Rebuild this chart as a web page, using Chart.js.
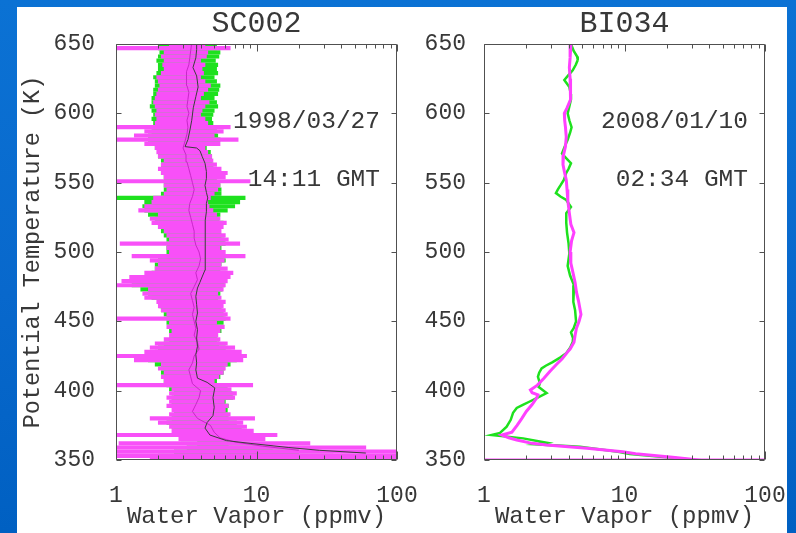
<!DOCTYPE html>
<html>
<head>
<meta charset="utf-8">
<script src="https://cdn.jsdelivr.net/npm/chart.js@4/dist/chart.umd.min.js"></script>
<style>
html,body{margin:0;padding:0;}
body{width:796px;height:533px;overflow:hidden;position:relative;background:linear-gradient(180deg,#0b72d4 0%,#0868cc 55%,#0060c2 100%);}
#panel{position:absolute;left:17px;top:7px;width:770px;height:526px;background:#ffffff;}
#c1{position:absolute;left:0;top:0;}
#c2{position:absolute;left:383px;top:0;}
</style>
</head>
<body>
<div id="panel">
<canvas id="c1" width="410" height="526"></canvas>
<canvas id="c2" width="387" height="526"></canvas>
</div>
<script>
// ---------------- DATA ----------------
const panelTitles = ['SC002', 'BI034'];
const panelDates = ['1998/03/27', '2008/01/10'];
const panelTimes = ['14:11 GMT', '02:34 GMT'];
const xTickLabels = ['1', '10', '100'];
const yTickValues = [350, 400, 450, 500, 550, 600, 650];

// SC002: potential temperature levels (K) of the error bars
const thetaSC = [350,353,356,359,362,365,368,371,374,377,
                 380,383,386,389,392,395,398,401,404,407,
                 410,413,416,419,422,425,428,431,434,437,
                 440,443,446,449,452,455,458,461,464,467,
                 470,473,476,479,482,485,488,491,494,497,
                 500,503,506,509,512,515,518,521,524,527,
                 530,533,536,539,542,545,548,551,554,557,
                 560,563,566,569,572,575,578,581,584,587,
                 590,593,596,599,602,605,608,611,614,617,
                 620,623,626,629,632,635,638,641,644,647,
                 650];
// magenta error bars: low / high water vapor (ppmv)
const sc002MagLo = [1.75,1.0,1.0,1.0,1.05,2.8,1.0,2.5,2.4,2.0,
                    1.75,2.4,2.5,2.3,2.4,2.3,2.4,2.5,1.0,2.2,
                    2.1,2.2,2.0,2.1,1.35,1.0,1.6,1.75,1.9,2.2,
                    2.4,2.5,2.3,2.4,1.0,2.3,2.1,2.0,1.95,1.6,
                    1.55,1.7,1.0,1.1,1.25,1.6,1.9,2.0,1.75,1.3,
                    2.4,2.3,1.07,2.4,2.3,2.2,2.0,1.8,1.75,2.0,
                    1.45,1.6,1.8,1.85,2.2,2.3,2.2,1.0,2.2,2.1,
                    2.0,2.1,2.2,2.0,1.95,1.9,1.6,1.0,1.35,1.6,
                    1.0,1.9,1.95,1.9,1.95,1.9,1.85,1.9,1.95,2.0,
                    2.05,2.0,1.95,2.1,2.2,2.15,2.2,2.1,2.2,1.0,
                    2.4];
const sc002MagHi = [100,100,100,60,24,11.5,14,9.5,8.5,8.0,
                    9.7,6.5,6.0,6.3,5.9,7.0,7.2,6.6,9.4,5.0,
                    5.4,5.8,6.0,6.2,8.0,8.5,7.8,7.0,6.2,5.5,
                    5.3,5.5,5.9,5.2,6.5,6.2,6.0,5.8,6.0,5.6,
                    5.3,5.8,6.0,6.2,6.5,6.8,6.2,5.6,5.9,8.3,
                    6.0,5.5,7.6,6.3,6.0,5.6,5.8,6.1,5.5,5.2,
                    4.9,4.6,4.5,4.7,5.0,5.3,5.5,9.0,6.0,6.2,
                    5.6,5.2,4.9,4.8,4.5,4.3,5.5,7.4,5.0,5.8,
                    6.5,4.5,4.3,4.0,4.1,4.3,4.6,4.0,4.2,4.5,
                    4.7,4.3,4.0,4.2,4.1,4.3,4.0,4.4,4.5,6.5,
                    4.3];
// green error bars: low / high water vapor (ppmv)
const sc002GrnLo = [1.8,2.0,2.6,3.2,3.8,2.9,2.7,2.6,2.5,2.3,
                    2.5,2.6,2.6,2.5,2.5,2.5,2.6,2.4,2.3,2.2,
                    2.2,2.1,2.1,1.9,1.7,1.8,1.9,2.0,2.2,2.4,
                    2.5,2.4,2.4,2.3,2.3,2.2,2.1,2.05,2.2,1.8,
                    1.7,1.5,1.3,1.4,1.6,1.8,1.9,1.9,2.0,2.3,
                    2.3,2.3,2.3,2.3,2.2,2.1,2.0,1.9,1.9,1.7,
                    1.6,1.55,1.6,1.0,2.1,2.2,2.2,2.2,2.2,2.1,
                    2.1,2.1,2.1,2.0,2.0,1.9,1.8,1.7,1.7,1.8,
                    1.85,1.85,1.8,1.85,1.8,1.75,1.8,1.8,1.85,1.85,
                    1.9,1.9,1.85,1.95,2.0,2.0,1.95,2.0,2.05,2.0,
                    2.0];
const sc002GrnHi = [60,35,20,13,6.3,9.5,8.5,8.2,7.8,7.2,
                    6.3,6.2,6.2,6.3,6.0,6.8,6.7,6.2,5.0,5.2,
                    5.5,5.8,5.9,6.5,7.2,7.0,6.6,6.0,5.4,5.2,
                    5.3,5.6,5.2,5.8,6.0,5.8,5.6,5.7,5.5,5.3,
                    5.5,5.7,5.9,6.0,6.2,6.0,5.5,5.6,6.0,5.8,
                    5.4,5.6,6.0,5.9,5.6,5.5,5.6,5.8,5.4,5.5,
                    6.2,7.0,7.6,8.3,5.6,5.6,5.5,5.2,5.0,5.0,
                    5.0,4.9,4.8,4.8,4.7,4.4,5.4,5.5,5.3,5.2,
                    5.0,4.9,4.8,4.9,5.0,5.3,5.2,5.0,5.3,5.4,
                    5.5,5.2,5.0,5.3,5.2,5.3,5.1,5.4,5.5,5.2,
                    5.2];
// SC002 dark mean profile
const sc002DarkTheta = [355,357,359,362,364,368,373,377,382,388,395,402,406,409,415,420,426,432,438,444,
                        450,456,462,468,474,478,482,487,493,499,505,511,517,523,529,535,539,543,548,553,
                        558,564,569,573,575,576,581,588,595,604,612,619,627,633,640,646,650];
const sc002DarkVal   = [60,28,17,9,6.1,4.66,4.3,4.45,4.9,5.0,4.9,5.05,4.45,3.8,3.7,3.75,3.7,3.8,3.75,3.8,
                        3.7,3.8,3.75,3.7,3.8,3.95,4.1,4.3,4.3,4.3,4.35,4.3,4.35,4.3,4.4,4.4,4.5,4.4,4.3,4.4,
                        4.4,4.3,4.1,3.96,3.75,3.1,3.25,3.36,3.46,3.55,3.7,3.84,3.75,3.53,3.7,3.75,3.75];
// SC002 magenta mean profile
const sc002MagCtrTheta = [357,360,363,366,370,375,380,385,390,395,400,405,410,415,420,425,430,435,440,445,
                          450,455,460,465,470,475,480,485,490,495,500,505,510,515,520,525,530,535,540,545,
                          550,555,560,565,570,575,580,585,590,595,600,605,610,615,620,625,630,635,640,645,650];
const sc002MagCtrVal   = [20,11,7,5.5,5.0,4.7,3.8,3.5,3.7,3.9,4.0,3.5,3.4,3.3,3.5,3.6,3.9,3.8,3.6,3.7,
                          3.6,3.5,3.6,3.5,3.4,3.6,3.8,3.7,3.9,4.0,3.9,3.7,3.6,3.6,3.5,3.4,3.3,3.35,3.5,3.6,
                          3.5,3.4,3.3,3.2,3.15,3.0,3.1,3.2,3.25,3.2,3.3,3.2,3.25,3.3,3.2,3.15,3.2,3.3,3.35,3.4,3.45];

// BI034 magenta profile
const bi034MagTheta = [650,640,633,625,618,610,604,600,595,590,583,576,570,563,557,552,545,537,528,520,
                       514,508,500,492,485,478,471,465,460,455,450,445,440,435,430,428,423,418.5,414,409,
                       404,400.5,398.5,397,395,390,385,380,375,370,368,366,364.4,362,360.8,358.4,356,354.5,352,350.5,349];
const bi034MagVal   = [4.16,4.1,4.05,4.1,4.16,4.1,3.9,3.73,3.75,3.8,3.85,3.8,3.68,3.65,3.75,3.85,3.9,3.95,4.05,4.15,
                       4.37,4.2,4.1,4.15,4.3,4.45,4.55,4.7,4.8,4.9,4.75,4.55,4.45,4.37,4.1,3.94,3.6,3.25,2.95,2.67,
                       2.4,2.14,2.2,2.42,2.38,2.2,2.0,1.86,1.72,1.58,1.34,1.5,1.71,2.2,2.79,5.4,9.7,12,22,30,40];
// BI034 green profile
const bi034GrnTheta = [650,645,641,638.5,635,631,627,624,619,614,610,605,600,595,590,586,581,576,571,567,
                       564,560,557,552,548,545,542.5,540,537.5,532.5,528,521,514,506,499,490,483,476,470,464,
                       458,450,445,442,438,435,431,427,424,420.6,418,416,413,410,405.5,402.7,398.3,394.7,392,389.7,
                       387.5,384,379,374,369.5,368,365.6,362.5,361.3,359.6,356,354.3,351,349];
const bi034GrnVal   = [4.16,4.35,4.6,4.65,4.5,4.28,3.95,3.73,4.05,4.15,4.16,4.05,3.94,4.05,4.2,4.1,3.94,3.75,3.59,3.9,
                       4.16,4.0,3.85,3.7,3.5,3.35,3.25,3.5,3.85,4.16,3.85,3.85,3.9,4.0,4.05,3.94,4.1,4.37,4.3,4.35,
                       4.45,4.52,4.35,4.16,4.3,4.28,4.1,3.85,3.5,3.08,2.75,2.57,2.47,2.42,2.5,2.45,2.79,2.37,2.1,1.89,
                       1.71,1.61,1.55,1.45,1.3,1.13,1.9,2.79,2.37,4.82,9.0,10.9,25,38];
// BI034 lowest-level magenta segment
const bi034LowTheta = [350, 350];
const bi034LowVal   = [1, 100];

// ---------------- STYLE / HELPERS ----------------
const MONO = "'Liberation Mono', 'DejaVu Sans Mono', monospace";
const TXT = '#383838';
const MAGENTA = 'rgb(248,80,248)';
const GREEN = 'rgb(30,225,30)';
Chart.defaults.font.family = MONO;
Chart.defaults.color = TXT;

const pts = (th, v) => th.map((t, i) => ({x: v[i], y: t}));
const bars = (th, lo, hi) => th.map((t, i) => ({y: t, x: [lo[i], hi[i]]}));

const framePlugin = {
  id: 'frame',
  afterDatasetsDraw(chart, args, opts) {
    const {ctx, chartArea: a} = chart;
    const xs = chart.scales.x, ys = chart.scales.y;
    ctx.save();
    ctx.strokeStyle = '#505050';
    ctx.lineWidth = 1;
    const L = Math.round(a.left) + 0.5, R = Math.round(a.right) - 0.5;
    const T = Math.round(a.top) + 0.5, B = Math.round(a.bottom) - 0.5;
    ctx.beginPath();
    ctx.rect(L, T, R - L, B - T);
    for (const t of xs.ticks) {
      const v = t.value;
      const e = Math.floor(Math.log10(v) + 1e-9);
      const k = v / Math.pow(10, e);
      if (Math.abs(k - Math.round(k)) > 1e-6) continue;
      const major = Math.abs(k - 1) < 1e-6;
      const px = Math.round(xs.getPixelForValue(v)) + 0.5;
      ctx.moveTo(px, B); ctx.lineTo(px, B - (major ? 8 : 4));
      ctx.moveTo(px, T); ctx.lineTo(px, T + (major ? 7 : 4));
    }
    for (const t of ys.ticks) {
      const py = Math.round(ys.getPixelForValue(t.value)) + 0.5;
      ctx.moveTo(L, py); ctx.lineTo(L + 5, py);
      ctx.moveTo(R, py); ctx.lineTo(R - 5, py);
    }
    ctx.stroke();
    ctx.fillStyle = TXT;
    ctx.font = '24.5px ' + MONO;
    ctx.textAlign = 'right';
    ctx.textBaseline = 'alphabetic';
    for (const n of (opts.notes || [])) {
      ctx.fillText(n.text, a.right - 17, ys.getPixelForValue(n.theta));
    }
    ctx.restore();
  }
};

function makeScales(yAxisWidth, showYTitle) {
  return {
    x: {
      type: 'logarithmic', min: 1, max: 100, position: 'bottom',
      grid: {display: false}, border: {display: false},
      ticks: {
        autoSkip: false, maxRotation: 0, minRotation: 0, padding: 14,
        font: {size: 23, family: MONO}, color: TXT,
        callback: (v) => {
          const s = String(Math.round(v));
          return (xTickLabels.includes(s) && Math.abs(v - Math.round(v)) < 1e-9) ? s : '';
        }
      },
      title: {display: true, text: 'Water Vapor (ppmv)', font: {size: 24, family: MONO}, color: TXT, padding: {top: 0, bottom: 2}},
      afterFit(s) { s.height = 73; s.paddingLeft = 0; s.paddingRight = 0; }
    },
    y: {
      type: 'linear', min: 350, max: 650, position: 'left', offset: false,
      grid: {display: false}, border: {display: false},
      afterBuildTicks(s) { s.ticks = yTickValues.map(v => ({value: v})); },
      ticks: {padding: showYTitle ? 13 : 10, font: {size: 23, family: MONO}, color: TXT},
      title: {display: showYTitle, text: 'Potential Temperature (K)', font: {size: 23.5, family: MONO}, color: TXT, padding: {top: 2, bottom: 0}},
      afterFit(s) { s.width = yAxisWidth; s.paddingTop = 0; s.paddingBottom = 0; }
    }
  };
}

function titleOpts(text) {
  return {display: true, text, fullSize: false, color: TXT,
          font: {size: 30, lineHeight: 1, family: MONO, weight: 'normal'},
          padding: {top: 2, bottom: 5}};
}

// ---------------- LEFT: SC002 ----------------
new Chart(document.getElementById('c1'), {
  type: 'bar',
  data: {
    datasets: [
      {type: 'line', label: 'mean', indexAxis: 'y', data: pts(sc002DarkTheta, sc002DarkVal),
       borderColor: '#3c3c3c', borderWidth: 1, pointRadius: 0, tension: 0, order: 1},
      {type: 'line', label: 'magenta mean', indexAxis: 'y', data: pts(sc002MagCtrTheta, sc002MagCtrVal),
       borderColor: '#c828c8', borderWidth: 1, pointRadius: 0, tension: 0, order: 2},
      {label: 'magenta range', indexAxis: 'y', data: bars(thetaSC, sc002MagLo, sc002MagHi),
       backgroundColor: MAGENTA, borderWidth: 0, grouped: false, barThickness: 3.5, maxBarThickness: 3.5, order: 3},
      {label: 'green range', indexAxis: 'y', data: bars(thetaSC, sc002GrnLo, sc002GrnHi),
       backgroundColor: GREEN, borderWidth: 0, grouped: false, barThickness: 3.5, maxBarThickness: 3.5, order: 4}
    ]
  },
  options: {
    indexAxis: 'y', responsive: false, animation: false, devicePixelRatio: 1,
    layout: {padding: {left: 0, right: 30, top: 0, bottom: 0}},
    scales: makeScales(99, true),
    plugins: {
      legend: {display: false}, tooltip: {enabled: false},
      title: titleOpts(panelTitles[0]),
      frame: {notes: [{text: panelDates[0], theta: 589.4}, {text: panelTimes[0], theta: 547.6}]}
    }
  },
  plugins: [framePlugin]
});

// ---------------- RIGHT: BI034 ----------------
new Chart(document.getElementById('c2'), {
  type: 'scatter',
  data: {
    datasets: [
      {label: 'lowest level', data: pts(bi034LowTheta, bi034LowVal), showLine: true,
       borderColor: 'rgb(255,64,255)', borderWidth: 3, pointRadius: 0, order: 1},
      {label: 'magenta', data: pts(bi034MagTheta, bi034MagVal), showLine: true,
       borderColor: 'rgb(255,64,255)', borderWidth: 3, pointRadius: 0, tension: 0, order: 2},
      {label: 'green', data: pts(bi034GrnTheta, bi034GrnVal), showLine: true,
       borderColor: 'rgb(30,225,30)', borderWidth: 2.5, pointRadius: 0, tension: 0, order: 3}
    ]
  },
  options: {
    responsive: false, animation: false, devicePixelRatio: 1,
    layout: {padding: {left: 0, right: 22, top: 0, bottom: 0}},
    scales: makeScales(84, false),
    plugins: {
      legend: {display: false}, tooltip: {enabled: false},
      title: titleOpts(panelTitles[1]),
      frame: {notes: [{text: panelDates[1], theta: 589.4}, {text: panelTimes[1], theta: 547.6}]}
    }
  },
  plugins: [framePlugin]
});
</script>
</body>
</html>
